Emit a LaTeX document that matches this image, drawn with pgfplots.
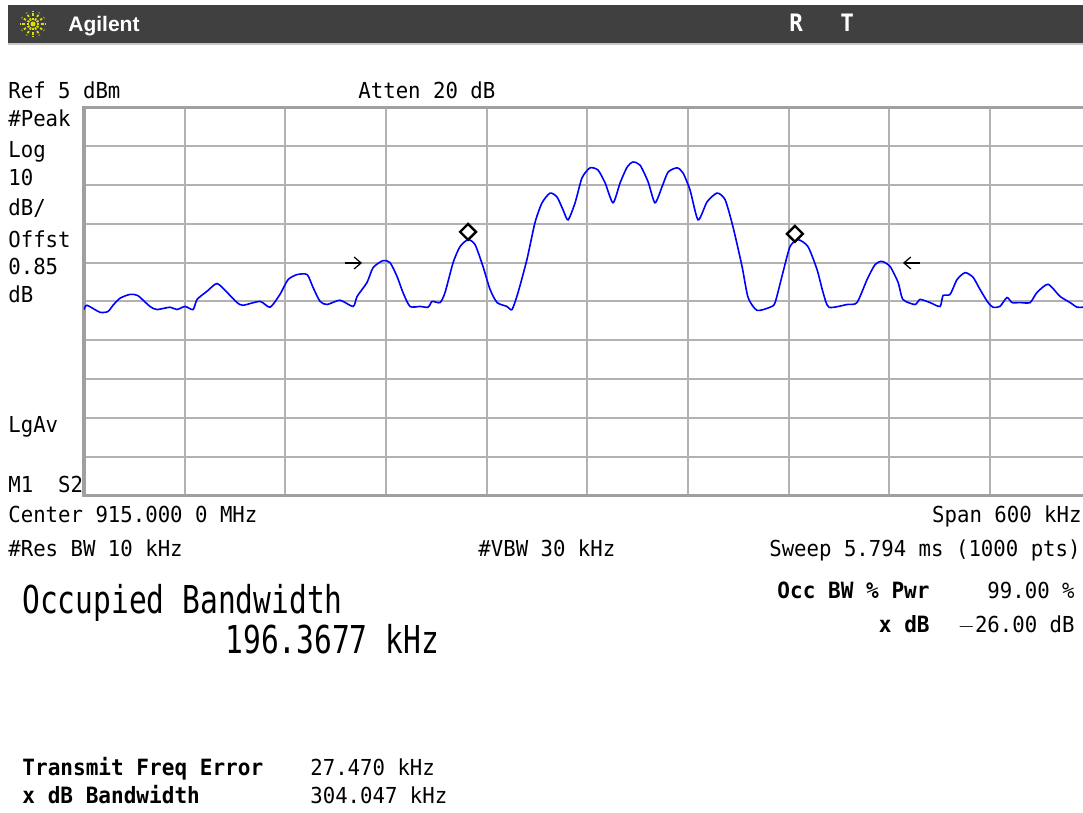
\documentclass[border=0pt]{standalone}
\usepackage{pgfplots}
\pgfplotsset{compat=1.18}
\usepackage{fontspec}
\usetikzlibrary{arrows.meta}
\setmainfont{DejaVu Sans Mono}[FakeStretch=0.94]
\newfontfamily\bigfont{DejaVu Sans Mono}[FakeStretch=0.77]
\newfontfamily\logofont{Liberation Sans}
\definecolor{trace}{RGB}{0,0,255}
\definecolor{topbar}{RGB}{64,64,64}
\definecolor{gridc}{RGB}{178,178,178}
\definecolor{framec}{RGB}{160,160,160}
\definecolor{logo}{RGB}{225,225,0}
\newcommand\sm{\fontsize{11}{13}\selectfont}
\newcommand\smb{\fontsize{11.2}{13}\selectfont\bfseries}
\newcommand\lgtxt{\bigfont\fontsize{19.2}{22}\selectfont}

\begin{document}
\begin{tikzpicture}
% page = 1083 x 813 px, 1 px = 0.5pt
\useasboundingbox[fill=white] (0,0) rectangle (541.5pt,-406.5pt);

\begin{axis}[
  at={(42pt,-247.75pt)}, anchor=south west,
  scale only axis, width=503.35pt, height=194.1pt,
  xmin=-300, xmax=300, ymin=-95, ymax=5,
  xtick={-240,-180,...,240}, ytick={-85,-75,...,-5},
  xticklabels={}, yticklabels={},
  major tick length=0pt,
  grid=major,
  grid style={draw=gridc, line width=1pt},
  axis line style={draw=framec, line width=1.6pt},
]
\addplot[trace, line width=0.8pt, mark=none, smooth, tension=0.4] coordinates {
  (-300,-47.1)(-298.2,-46.0)(-290.5,-47.8)(-285.7,-47.6)(-282.7,-46.0)
  (-278.6,-44.2)(-272.6,-43.2)(-267.9,-43.5)(-260.7,-46.3)(-256.5,-47.1)
  (-248.7,-46.5)(-244.6,-47.1)(-239.8,-46.3)(-235.0,-47.1)(-232.6,-44.5)
  (-226.7,-42.4)(-220.7,-40.4)(-214.7,-42.7)(-208.8,-45.3)(-205.2,-46.0)
  (-195.1,-45.0)(-189.1,-46.5)(-183.2,-43.2)(-178.4,-39.4)(-173.0,-38.1)
  (-167.0,-38.1)(-163.5,-41.4)(-159.3,-45.0)(-155.1,-45.8)(-147.4,-44.7)
  (-139.6,-46.3)(-137.2,-43.7)(-131.3,-40.1)(-127.7,-36.3)(-121.8,-34.5)
  (-117.6,-35.0)(-113.4,-38.6)(-109.9,-42.7)(-105.7,-46.3)(-99.7,-46.3)
  (-94.9,-46.5)(-92.5,-45.0)(-87.8,-45.3)(-84.8,-42.7)(-80.0,-35.0)
  (-75.9,-30.9)(-71.1,-29.1)(-66.9,-30.4)(-62.2,-36.0)(-58.0,-41.9)
  (-53.8,-45.3)(-47.9,-46.3)(-44.9,-47.1)(-41.3,-42.7)(-36.0,-34.2)
  (-31.2,-24.7)(-27.0,-19.6)(-22.2,-17.1)(-18.1,-18.1)(-14.5,-21.4)
  (-11.5,-24.0)(-7.3,-19.6)(-3.2,-13.2)(1.6,-10.6)(6.4,-11.2)
  (10.6,-14.5)(15.3,-19.6)(19.5,-14.5)(23.7,-10.4)(27.2,-9.1)
  (31.4,-9.9)(36.2,-14.2)(40.3,-19.6)(44.5,-15.5)(48.1,-11.7)
  (53.5,-10.6)(57.0,-11.9)(61.2,-16.3)(66.0,-24.0)(71.3,-19.4)
  (77.3,-17.1)(82.1,-18.8)(86.8,-25.8)(92.2,-36.0)(95.8,-44.0)
  (101.1,-47.3)(108.9,-46.5)(111.9,-45.3)(116.6,-37.5)(120.8,-30.9)
  (125.6,-29.1)(131.5,-30.9)(136.9,-36.8)(140.5,-42.7)(144.0,-46.5)
  (154.8,-45.8)(160.7,-45.3)(166.7,-39.4)(171.5,-35.5)(175.6,-34.7)
  (180.4,-36.0)(185.2,-40.1)(188.1,-44.5)(195.3,-45.8)(198.3,-44.5)
  (204.2,-45.3)(210.2,-46.3)(212.0,-43.5)(216.2,-43.2)(220.3,-39.4)
  (225.1,-37.6)(229.9,-38.8)(234.0,-41.9)(238.8,-45.3)(241.8,-46.5)
  (245.9,-46.3)(250.1,-44.0)(253.1,-45.3)(257.9,-45.3)(263.9,-45.3)
  (268.0,-42.7)(274.6,-40.6)(281.7,-43.7)(287.7,-45.3)(291.9,-46.5)
  (295.4,-46.5)(300,-46.8)
};
% occupied bandwidth markers
\addplot[only marks, mark=square*, mark size=2.8pt,
  mark options={rotate=45, fill=white, draw=black, line width=1.2pt}]
  coordinates {(-71.1,-27.1) (123.7,-27.6)};
% x dB points
\draw[black, line width=0.6pt, -{Straight Barb[length=3.5pt, width=6pt]}]
  (axis cs:-144.4,-35.1) -- (axis cs:-134.3,-35.1);
\draw[black, line width=0.6pt, -{Straight Barb[length=3.5pt, width=6pt]}]
  (axis cs:198.2,-35.1) -- (axis cs:188.1,-35.1);
\end{axis}

\begin{scope}[x=0.5pt, y=-0.5pt]
  % title bar
  \fill[topbar] (8,5) rectangle (1083,43);
  \draw[gray!45, line width=1pt] (8,44) -- (1083,44);
  \foreach \a in {0,30,...,330}
    \draw[logo, line width=0.9pt, dash pattern=on 1.2pt off 0.9pt] (33,24) ++(\a:4) -- ++(\a:9);
  \fill[logo] (33,24) circle (2.5);
  \node[anchor=base west, inner sep=0, text=white] at (68,32)
    {\logofont\fontsize{10.5}{12}\selectfont\bfseries Agilent};
  \node[anchor=base west, inner sep=0, text=white] at (789,32) {\fontsize{12}{14}\selectfont\bfseries R};
  \node[anchor=base west, inner sep=0, text=white] at (840,32) {\fontsize{12}{14}\selectfont\bfseries T};

  % header and left annotations
  \node[anchor=base west, inner sep=0] at (8,99) {\sm Ref 5 dBm};
  \node[anchor=base west, inner sep=0] at (358,99) {\sm Atten 20 dB};
  \node[anchor=base west, inner sep=0] at (8,127) {\sm \#Peak};
  \node[anchor=base west, inner sep=0] at (8,158) {\sm Log};
  \node[anchor=base west, inner sep=0] at (8,186) {\sm 10};
  \node[anchor=base west, inner sep=0] at (8,215) {\sm dB/};
  \node[anchor=base west, inner sep=0] at (8,248) {\sm Offst};
  \node[anchor=base west, inner sep=0] at (8,275) {\sm 0.85};
  \node[anchor=base west, inner sep=0] at (8,302) {\sm dB};
  \node[anchor=base west, inner sep=0] at (8,432) {\sm LgAv};
  \node[anchor=base west, inner sep=0] at (8,492) {\sm M1~~S2};

  % settings below the graticule
  \node[anchor=base west, inner sep=0] at (8,522) {\sm Center 915.000 0 MHz};
  \node[anchor=base east, inner sep=0] at (1082,522) {\sm Span 600 kHz};
  \node[anchor=base west, inner sep=0] at (8,556) {\sm \#Res BW 10 kHz};
  \node[anchor=base west, inner sep=0] at (478,556) {\sm \#VBW 30 kHz};
  \node[anchor=base east, inner sep=0] at (1081,556) {\sm Sweep 5.794 ms (1000 pts)};

  % measurement results
  \node[anchor=base west, inner sep=0] at (22,613) {\lgtxt Occupied Bandwidth};
  \node[anchor=base west, inner sep=0] at (225,653) {\lgtxt 196.3677 kHz};
  \node[anchor=base east, inner sep=0] at (930,598) {\smb Occ BW \% Pwr};
  \node[anchor=base east, inner sep=0] at (1075,598) {\sm 99.00 \%};
  \node[anchor=base east, inner sep=0] at (930,632) {\smb x dB};
  \node[anchor=base east, inner sep=0] at (1075,632) {\sm $-$26.00 dB};

  \node[anchor=base west, inner sep=0] at (22,775) {\smb Transmit Freq Error};
  \node[anchor=base west, inner sep=0] at (310,775) {\sm 27.470 kHz};
  \node[anchor=base west, inner sep=0] at (22,803) {\smb x dB Bandwidth};
  \node[anchor=base west, inner sep=0] at (310,803) {\sm 304.047 kHz};
\end{scope}
\end{tikzpicture}
\end{document}
